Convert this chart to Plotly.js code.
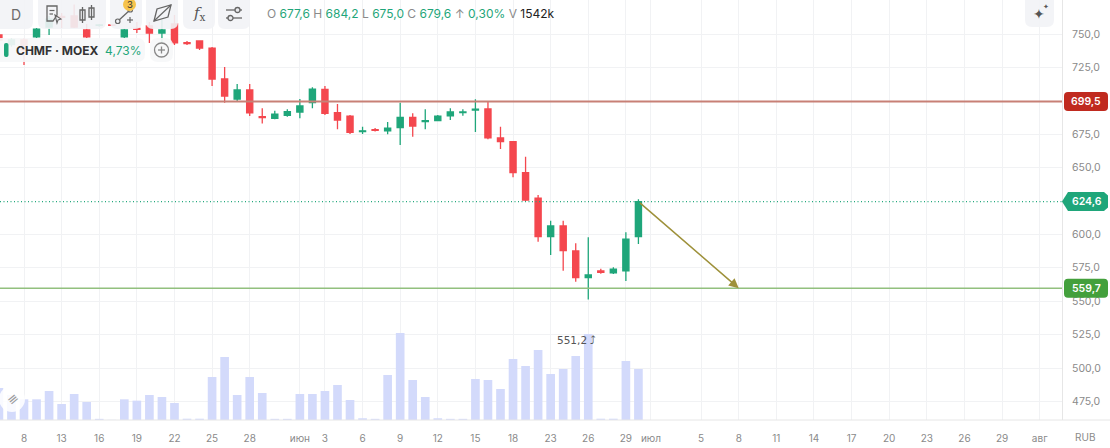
<!DOCTYPE html>
<html><head><meta charset="utf-8">
<script src="https://cdn.plot.ly/plotly-3.0.1.min.js"></script>
<style>html,body{margin:0;padding:0;background:#fff;}#chart{width:1110px;height:448px;}</style>
</head><body><div id="chart"></div>
<script>
// ---- data (CHMF · MOEX, daily, RUB) ----
const dates = ['2026-05-06','2026-05-07','2026-05-08','2026-05-11','2026-05-12','2026-05-13','2026-05-14','2026-05-15','2026-05-16','2026-05-17',
 '2026-05-18','2026-05-19','2026-05-20','2026-05-21','2026-05-22','2026-05-23','2026-05-24','2026-05-25','2026-05-26','2026-05-27',
 '2026-05-28','2026-05-29','2026-05-30','2026-05-31','2026-06-01','2026-06-02','2026-06-03','2026-06-04','2026-06-05','2026-06-06',
 '2026-06-07','2026-06-08','2026-06-09','2026-06-10','2026-06-11','2026-06-12','2026-06-13','2026-06-14','2026-06-15','2026-06-16',
 '2026-06-17','2026-06-18','2026-06-19','2026-06-22','2026-06-23','2026-06-24','2026-06-25','2026-06-26','2026-06-27','2026-06-28',
 '2026-06-29','2026-06-30'];
const opens  = [749.3,742.0,745.5,747.8,755.2,763.1,763.5,753.0,756.5,756.8, 747.8,754.1,756.0,750.7,757.5,743.6,744.8,739.5,716.3,701.3,
 708.1,688.1,686.9,689.1,691.6,698.7,708.6,691.1,688.6,677.0, 678.5,677.6,679.9,687.6,684.5,685.1,688.8,691.1,693.1,693.9,
 672.2,669.4,646.2,627.2,598.3,606.3,587.6,567.6,572.6,571.3, 572.8,598.3];
const highs  = [750.7,747.0,747.0,754.5,763.5,765.7,772.0,757.5,757.5,757.2, 754.0,759.0,759.0,760.5,764.2,744.8,744.8,740.3,725.3,712.6,
 712.6,694.4,692.6,693.6,701.3,710.1,711.1,697.6,689.4,680.6, 679.6,684.2,698.6,690.6,693.6,689.4,694.4,693.6,701.2,699.3,
 680.6,669.9,658.2,629.5,610.3,610.3,593.3,597.8,574.3,575.4, 601.6,626.3];
const lows   = [741.8,740.5,726.8,747.0,749.3,754.5,754.5,747.0,755.5,756.0, 747.0,750.7,743.3,743.3,741.8,741.8,738.0,711.1,698.6,699.9,
 688.6,683.0,686.2,688.1,686.9,694.4,689.4,678.7,675.1,675.1, 677.0,675.0,666.9,673.1,678.7,684.7,685.6,688.8,676.6,671.3,
 663.9,642.7,625.0,594.5,584.6,572.8,564.6,551.2,570.6,570.4, 565.1,592.8];
const closes = [745.5,745.5,738.0,753.7,761.2,762.4,755.2,747.8,756.8,756.5, 753.0,753.4,750.7,753.0,743.3,742.9,739.5,716.3,703.6,708.1,
 690.9,687.4,690.1,691.8,696.1,708.8,690.6,685.6,676.4,677.5, 677.8,679.6,687.6,681.1,685.1,688.6,691.6,691.6,693.7,672.2,
 669.4,646.2,625.7,598.3,606.3,587.8,567.6,569.6,571.6,573.9, 596.4,624.6];
const volumesK = [1097,857,709,709,994,548,891,617,40,6, 709,663,857,788,583,45,45,1474,2159,857,
 1474,925,40,40,891,891,994,1199,685,60, 40,1542,2981,1371,788,60,40,40,1405,1371,
 1062,2090,1850,2399,1576,1748,2193,2947,45,45, 2022,1748];
const futureDates = ['2026-07-01','2026-07-02','2026-07-03','2026-07-04','2026-07-05','2026-07-06','2026-07-07','2026-07-08','2026-07-09','2026-07-10',
 '2026-07-11','2026-07-12','2026-07-13','2026-07-14','2026-07-15','2026-07-16','2026-07-17','2026-07-18','2026-07-19','2026-07-20',
 '2026-07-21','2026-07-22','2026-07-23','2026-07-24','2026-07-25','2026-07-26','2026-07-27','2026-07-28','2026-07-29','2026-07-30',
 '2026-07-31','2026-08-01','2026-08-02','2026-08-03'];
const tickDates = ['2026-05-08','2026-05-13','2026-05-16','2026-05-19','2026-05-22','2026-05-25','2026-05-28','2026-06-01','2026-06-03','2026-06-06',
 '2026-06-09','2026-06-12','2026-06-15','2026-06-18','2026-06-23','2026-06-26','2026-06-29','2026-07-01','2026-07-05','2026-07-08',
 '2026-07-11','2026-07-14','2026-07-17','2026-07-20','2026-07-23','2026-07-26','2026-07-29','2026-08-01'];
const tickLabels = ['8','13','16','19','22','25','28','июн','3','6','9','12','15','18','23','26','29','июл','5','8','11','14','17','20','23','26','29','авг'];
const priceTicks = [475, 500, 525, 550, 575, 600, 650, 675, 725, 750, 775];
const resistanceLevel = 699.5;
const supportLevel = 559.7;
const arrowTargetDate = '2026-07-08';
const hoverIndex = 31; // candle shown in the OHLC header

// ---- styling ----
const G = '#1FA67A', R = '#F4474E', VOL = '#D3DAFB';
const FONT = 'Inter, Roboto, "Noto Sans", sans-serif';
const W = 1062, H = 420;           // plot area in px (margin l=0,t=0)
const yRange = [461.08, 775.45];
const PX = x => x / W, PY = y => 1 - y / H;
const yPix = v => (yRange[1] - v) / (yRange[1] - yRange[0]) * H;
const fmt = v => v.toFixed(1).replace('.', ',');

function rr(x0, y0, x1, y1, r) {
  const P = (x, y) => PX(x) + ',' + PY(y);
  return 'M' + P(x0 + r, y0) + ' L' + P(x1 - r, y0) + ' Q' + P(x1, y0) + ' ' + P(x1, y0 + r) +
    ' L' + P(x1, y1 - r) + ' Q' + P(x1, y1) + ' ' + P(x1 - r, y1) + ' L' + P(x0 + r, y1) +
    ' Q' + P(x0, y1) + ' ' + P(x0, y1 - r) + ' L' + P(x0, y0 + r) + ' Q' + P(x0, y0) + ' ' + P(x0 + r, y0) + ' Z';
}
function pathPx(pts, close) {
  return pts.map((p, i) => (i ? 'L' : 'M') + PX(p[0]) + ',' + PY(p[1])).join(' ') + (close ? ' Z' : '');
}
const paperShape = (o) => Object.assign({xref: 'paper', yref: 'paper', layer: 'above'}, o);
const BTN = 'rgba(242,243,246,0.9)';

const allDates = dates.concat(futureDates);
const N = dates.length;

const traces = [
  {type: 'scatter', mode: 'markers', x: allDates, y: allDates.map(() => 600), yaxis: 'y2',
   marker: {opacity: 0, size: 1}, hoverinfo: 'skip', showlegend: false},
  {type: 'bar', x: dates, y: volumesK, marker: {color: VOL, line: {width: 0}}, width: 0.69,
   hoverinfo: 'skip', showlegend: false, yaxis: 'y'},
  {type: 'candlestick', x: dates, open: opens, high: highs, low: lows, close: closes, yaxis: 'y2',
   increasing: {line: {color: G, width: 1.3}, fillcolor: G},
   decreasing: {line: {color: R, width: 1.3}, fillcolor: R},
   whiskerwidth: 0, hoverinfo: 'skip', showlegend: false}
];

// header text from hovered candle
const hi = hoverIndex;
const chg = (closes[hi] - opens[hi]) / opens[hi] * 100;
const gs = t => '<span style="color:' + G + '">' + t + '</span>';
const header = 'O ' + gs(fmt(opens[hi])) + ' H ' + gs(fmt(highs[hi])) + ' L ' + gs(fmt(lows[hi])) +
  ' C ' + gs(fmt(closes[hi])) + ' ↑ ' + gs(chg.toFixed(2).replace('.', ',') + '%') +
  ' V <span style="color:#222">' + volumesK[hi] + 'k</span>';
const dayChg = (closes[N - 1] / closes[N - 2] - 1) * 100;
const minLow = Math.min(...lows), minIdx = lows.indexOf(minLow);

const shapes = [
  {type: 'line', xref: 'paper', yref: 'y2', x0: 0, x1: 1, y0: resistanceLevel, y1: resistanceLevel,
   line: {color: 'rgb(200,128,118)', width: 2}, layer: 'above'},
  {type: 'line', xref: 'paper', yref: 'y2', x0: 0, x1: 1, y0: closes[N - 1], y1: closes[N - 1],
   line: {color: '#22A87C', width: 1.3, dash: '1px,2.5px'}, layer: 'above'},
  {type: 'line', xref: 'paper', yref: 'y2', x0: 0, x1: 1, y0: supportLevel, y1: supportLevel,
   line: {color: 'rgb(146,192,126)', width: 1.5}, layer: 'above'},
  paperShape({type: 'line', x0: 0, x1: PX(1110), y0: 0, y1: 0, line: {color: '#E6E6E6', width: 1}}),
  // toolbar
  paperShape({type: 'path', path: rr(-12, -12, 33, 29, 7), fillcolor: BTN, line: {width: 0}}),
  paperShape({type: 'path', path: rr(38, -12, 106, 29, 7), fillcolor: BTN, line: {width: 0}}),
  paperShape({type: 'path', path: rr(110, -12, 142, 29, 7), fillcolor: BTN, line: {width: 0}}),
  paperShape({type: 'path', path: rr(146, -12, 178, 29, 7), fillcolor: BTN, line: {width: 0}}),
  paperShape({type: 'path', path: rr(183, -12, 215, 29, 7), fillcolor: BTN, line: {width: 0}}),
  paperShape({type: 'path', path: rr(218, -12, 250, 29, 7), fillcolor: BTN, line: {width: 0}}),
  paperShape({type: 'path', path: rr(1025, -12, 1054, 27, 7), fillcolor: BTN, line: {width: 0}}),
  // doc icon
  paperShape({type: 'path', path: pathPx([[47, 6], [57, 6], [57, 15], [53, 21], [47, 21]], true), line: {color: '#666', width: 1.3}, fillcolor: 'rgba(0,0,0,0)'}),
  paperShape({type: 'line', x0: PX(49.5), x1: PX(54.5), y0: PY(10.5), y1: PY(10.5), line: {color: '#666', width: 1.2}}),
  paperShape({type: 'line', x0: PX(49.5), x1: PX(53), y0: PY(14), y1: PY(14), line: {color: '#666', width: 1.2}}),
  paperShape({type: 'path', path: pathPx([[55, 15], [61, 19], [58, 20], [57, 23]], true), line: {color: '#666', width: 1.1}, fillcolor: 'rgba(0,0,0,0)'}),
  // candles icon
  paperShape({type: 'rect', x0: PX(80), x1: PX(85), y0: PY(10), y1: PY(20), line: {color: '#666', width: 1.3}}),
  paperShape({type: 'line', x0: PX(82.5), x1: PX(82.5), y0: PY(7), y1: PY(23), line: {color: '#666', width: 1.3}}),
  paperShape({type: 'rect', x0: PX(89), x1: PX(94), y0: PY(8), y1: PY(17), line: {color: '#666', width: 1.3}}),
  paperShape({type: 'line', x0: PX(91.5), x1: PX(91.5), y0: PY(5), y1: PY(20), line: {color: '#666', width: 1.3}}),
  // draw tool
  paperShape({type: 'line', x0: PX(118), x1: PX(130), y0: PY(21), y1: PY(10), line: {color: '#666', width: 1.3}}),
  paperShape({type: 'circle', x0: PX(115.5), x1: PX(120), y0: PY(19), y1: PY(23.5), line: {color: '#666', width: 1.2}, fillcolor: BTN}),
  paperShape({type: 'circle', x0: PX(128), x1: PX(132.5), y0: PY(7.5), y1: PY(12), line: {color: '#666', width: 1.2}, fillcolor: BTN}),
  paperShape({type: 'line', x0: PX(127), x1: PX(133), y0: PY(20), y1: PY(20), line: {color: '#666', width: 1.2}}),
  paperShape({type: 'line', x0: PX(130), x1: PX(130), y0: PY(17), y1: PY(23), line: {color: '#666', width: 1.2}}),
  paperShape({type: 'circle', x0: PX(123), x1: PX(136), y0: PY(-2), y1: PY(11), line: {width: 0}, fillcolor: '#F6C34C'}),
  // rect tool
  paperShape({type: 'path', path: pathPx([[154, 21], [157, 9], [171, 5], [168, 17]], true), line: {color: '#666', width: 1.3}, fillcolor: 'rgba(0,0,0,0)'}),
  paperShape({type: 'line', x0: PX(154), x1: PX(171), y0: PY(21), y1: PY(5), line: {color: '#666', width: 1.1}}),
  // settings icon
  paperShape({type: 'line', x0: PX(226), x1: PX(242), y0: PY(10), y1: PY(10), line: {color: '#666', width: 1.3}}),
  paperShape({type: 'line', x0: PX(226), x1: PX(242), y0: PY(18), y1: PY(18), line: {color: '#666', width: 1.3}}),
  paperShape({type: 'circle', x0: PX(235), x1: PX(240), y0: PY(7.5), y1: PY(12.5), line: {color: '#666', width: 1.3}, fillcolor: BTN}),
  paperShape({type: 'circle', x0: PX(228), x1: PX(233), y0: PY(15.5), y1: PY(20.5), line: {color: '#666', width: 1.3}, fillcolor: BTN}),
  // ticker label box
  paperShape({type: 'path', path: rr(-12, 38, 145, 62, 8), fillcolor: 'rgba(246,247,249,0.92)', line: {width: 0}}),
  paperShape({type: 'path', path: rr(4, 43, 8.5, 57, 2), fillcolor: G, line: {width: 0}}),
  paperShape({type: 'path', path: rr(150, 38, 173, 62, 8), fillcolor: 'rgba(246,247,249,0.92)', line: {width: 0}}),
  paperShape({type: 'circle', x0: PX(154.5), x1: PX(168.5), y0: PY(43), y1: PY(57), line: {color: '#888', width: 1.3}, fillcolor: 'rgba(0,0,0,0)'}),
  paperShape({type: 'line', x0: PX(161.5), x1: PX(161.5), y0: PY(46.5), y1: PY(53.5), line: {color: '#888', width: 1.3}}),
  paperShape({type: 'line', x0: PX(158), x1: PX(165), y0: PY(50), y1: PY(50), line: {color: '#888', width: 1.3}}),
  // logo circle bottom-left
  paperShape({type: 'circle', x0: PX(-1), x1: PX(25), y0: PY(386), y1: PY(412), fillcolor: 'rgba(255,255,255,0.85)', line: {width: 0}}),
  // right price labels
  paperShape({type: 'path', path: rr(1064, yPix(resistanceLevel) - 9.5, 1108, yPix(resistanceLevel) + 9.5, 4), fillcolor: '#C02A1F', line: {width: 0}}),
  paperShape({type: 'path', path: (function () {
    const yc = yPix(closes[N - 1]);
    return pathPx([[1062, yc], [1068, yc - 9.5], [1104, yc - 9.5], [1108, yc - 6], [1108, yc + 6], [1104, yc + 9.5], [1068, yc + 9.5]], true);
  })(), fillcolor: G, line: {width: 0}}),
  paperShape({type: 'path', path: rr(1064, yPix(supportLevel) - 9.5, 1108, yPix(supportLevel) + 9.5, 4), fillcolor: '#43A03C', line: {width: 0}})
];

const txt = (x, y, text, size, color, extra) => Object.assign({xref: 'paper', yref: 'paper', x: PX(x), y: PY(y),
  text: text, showarrow: false, font: {family: FONT, size: size, color: color}, xanchor: 'center', yanchor: 'middle'}, extra || {});

const annotations = [
  {xref: 'x', yref: 'y2', x: arrowTargetDate, y: supportLevel, axref: 'x', ayref: 'y2',
   ax: dates[N - 1], ay: closes[N - 1], showarrow: true, arrowhead: 2, arrowsize: 1.3, arrowwidth: 1.5,
   arrowcolor: '#9E913A', text: ''},
  {xref: 'x', yref: 'y2', x: dates[minIdx], y: minLow, yshift: -40, xshift: -12, showarrow: false,
   xanchor: 'center', text: fmt(minLow) + ' ⤴', font: {family: 'DejaVu Sans, sans-serif', size: 10.5, color: '#555'}},
  txt(265, 14, header, 12, '#8A8A8A', {xanchor: 'left'}),
  txt(14, 50, '<b>CHMF · MOEX</b>  <span style="color:' + G + '">' + dayChg.toFixed(2).replace('.', ',') + '%</span>', 12, '#333', {xanchor: 'left'}),
  txt(16, 15, 'D', 14, '#6B6B6B'),
  txt(129.5, 5, '3', 9.5, '#333'),
  txt(199, 14, '<i>f</i><sub>x</sub>', 15, '#555', {font: {family: 'DejaVu Serif, serif', size: 15, color: '#555'}}),
  txt(1039, 14, '✦', 14, '#555', {font: {family: 'DejaVu Sans', size: 14, color: '#555'}}),
  txt(1046, 7, '✦', 7, '#555', {font: {family: 'DejaVu Sans', size: 7, color: '#555'}}),
  txt(12, 399, '≡', 13, '#9A9A9A', {textangle: -40, font: {family: 'DejaVu Sans', size: 13, color: '#9A9A9A'}}),
  txt(1085, 437, 'RUB', 10, '#8A8A8A'),
  {xref: 'paper', yref: 'y2', x: PX(1086), y: resistanceLevel, xanchor: 'center', yanchor: 'middle', text: fmt(resistanceLevel), showarrow: false,
   font: {family: FONT, size: 10.5, color: '#fff', weight: 600}},
  {xref: 'paper', yref: 'y2', x: PX(1087), y: closes[N - 1], xanchor: 'center', yanchor: 'middle', text: fmt(closes[N - 1]), showarrow: false,
   font: {family: FONT, size: 10.5, color: '#fff', weight: 600}},
  {xref: 'paper', yref: 'y2', x: PX(1086), y: supportLevel, xanchor: 'center', yanchor: 'middle', text: fmt(supportLevel), showarrow: false,
   font: {family: FONT, size: 10.5, color: '#fff', weight: 600}}
];

const layout = {
  width: 1110, height: 448,
  margin: {l: 0, r: 48, t: 0, b: 28, pad: 0},
  paper_bgcolor: '#fff', plot_bgcolor: '#fff',
  separators: ', ',
  showlegend: false, hovermode: false, dragmode: false,
  boxgap: 0.3,
  font: {family: FONT, size: 10, color: '#8A8A8A'},
  xaxis: {type: 'category', categoryorder: 'array', categoryarray: allDates,
    range: [0.086, 84.78], tickmode: 'array', tickvals: tickDates, ticktext: tickLabels,
    showgrid: true, gridcolor: '#F1F2F4', gridwidth: 1, showline: false, zeroline: false,
    ticks: 'outside', ticklen: 9, tickcolor: 'rgba(0,0,0,0)', tickangle: 0,
    tickfont: {family: FONT, size: 10, color: '#8A8A8A'}, rangeslider: {visible: false}, fixedrange: true},
  yaxis: {range: [0, 14393], visible: false, fixedrange: true},
  yaxis2: {overlaying: 'y', side: 'right', range: yRange, tickmode: 'array', tickvals: priceTicks, tickformat: '.1f',
    showgrid: true, gridcolor: '#F1F2F4', showline: true, linecolor: '#E6E6E6', linewidth: 1, zeroline: false,
    ticks: 'outside', ticklen: 7, tickcolor: 'rgba(0,0,0,0)',
    tickfont: {family: FONT, size: 10.5, color: '#8A8A8A'}, fixedrange: true},
  shapes: shapes,
  annotations: annotations
};

Plotly.newPlot('chart', traces, layout, {staticPlot: true, displayModeBar: false});
</script>
</body></html>
